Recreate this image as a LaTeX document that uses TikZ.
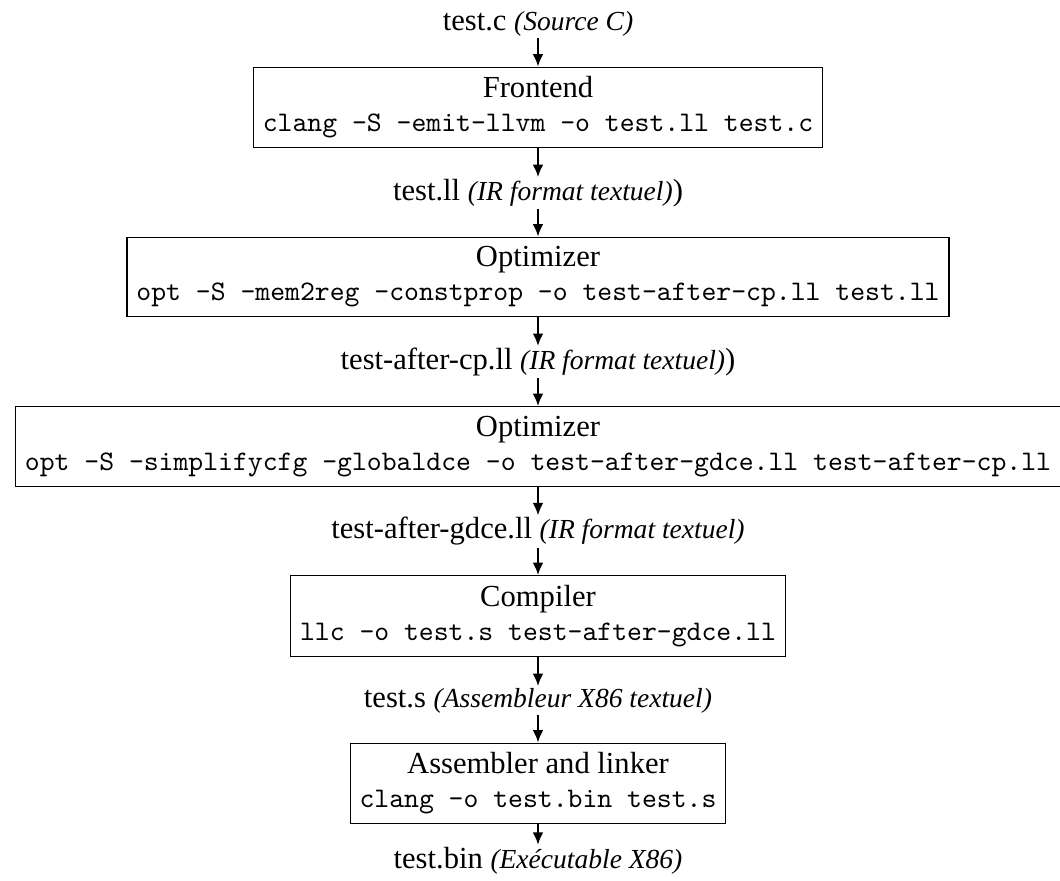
\documentclass[tikz,border=0pt]{standalone}
\usepackage{fontspec}
\setmainfont{Liberation Serif}[Scale=1.08]
\usetikzlibrary{arrows.meta}
\begin{document}
\begin{tikzpicture}[x=0.353pt,y=-0.353pt,
  stage/.style={draw, line width=0.4pt, align=center, inner sep=3.33pt},
  lbl/.style={inner xsep=3.33pt, inner ysep=0.5pt},
  flow/.style={-{Latex[length=4.4pt,width=3.8pt]}, line width=0.75pt}]
\useasboundingbox (0,0) rectangle (1060,880);
\node[lbl, anchor=base] (src) at (538,30) {test.c {\small\textit{(Source C)}}};
\node[stage] (fe) at (538,107.5) {Frontend\\\texttt{clang -S -emit-llvm -o test.ll test.c}};
\node[lbl] (ll) at (538,193) {test.ll {\small\textit{(IR format textuel)}})};
\node[stage] (opt1) at (538,277) {Optimizer\\\texttt{opt -S -mem2reg -constprop -o test-after-cp.ll test.ll}};
\node[lbl] (cp) at (538,362) {test-after-cp.ll {\small\textit{(IR format textuel)}})};
\node[stage] (opt2) at (538,446.5) {Optimizer\\\texttt{opt -S -simplifycfg -globaldce -o test-after-gdce.ll test-after-cp.ll}};
\node[lbl] (gdce) at (538,531.5) {test-after-gdce.ll {\small\textit{(IR format textuel)}}};
\node[stage] (cmp) at (538,616) {Compiler\\\texttt{llc -o test.s test-after-gdce.ll}};
\node[lbl] (asm) at (538,700.5) {test.s {\small\textit{(Assembleur X86 textuel)}}};
\node[stage] (lnk) at (538,783.5) {Assembler and linker\\\texttt{clang -o test.bin test.s}};
\node[lbl, anchor=base] (bin) at (538,868) {test.bin {\small\textit{(Exécutable X86)}}};
\draw[flow] (src) -- (fe);
\draw[flow] (fe) -- (ll);
\draw[flow] (ll) -- (opt1);
\draw[flow] (opt1) -- (cp);
\draw[flow] (cp) -- (opt2);
\draw[flow] (opt2) -- (gdce);
\draw[flow] (gdce) -- (cmp);
\draw[flow] (cmp) -- (asm);
\draw[flow] (asm) -- (lnk);
\draw[flow] (lnk) -- (bin);
\end{tikzpicture}
\end{document}
